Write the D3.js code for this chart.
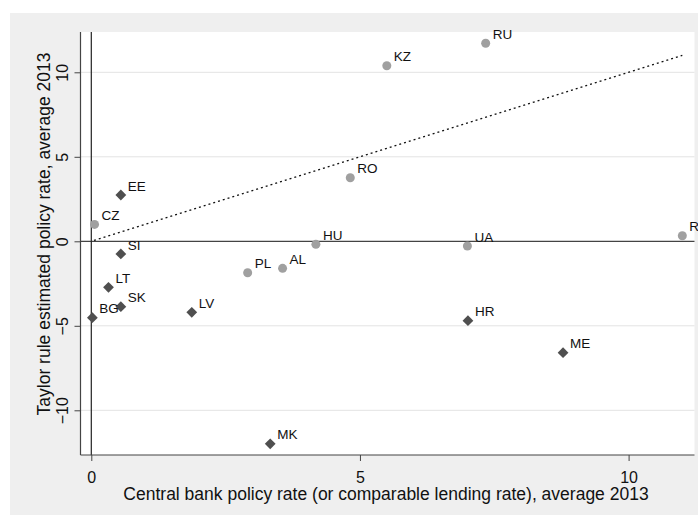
<!DOCTYPE html>
<html>
<head>
<meta charset="utf-8">
<script src="https://cdn.jsdelivr.net/npm/d3@7"></script>
<style>
  body { margin: 0; background: #fff; }
  svg { display: block; font-family: Arial, "Liberation Sans", sans-serif; }
</style>
</head>
<body>
<svg id="chart" width="698" height="515"></svg>
<script>
// Countries, policy rate (x) and Taylor-rule estimate (y), 2013 averages
const labels   = ["EE", "SI", "LT", "SK", "BG", "LV", "MK", "HR", "ME",
                  "CZ", "RU", "KZ", "RO", "HU", "UA", "RS", "PL", "AL"];
const policy   = [0.55, 0.55, 0.32, 0.55, 0.02, 1.87, 3.33, 7.01, 8.78,
                  0.06, 7.34, 5.50, 4.82, 4.18, 7.00, 11.00, 2.91, 3.56];
const taylor   = [2.74, -0.75, -2.72, -3.87, -4.52, -4.20, -11.98, -4.70, -6.59,
                  1.00, 11.72, 10.39, 3.76, -0.18, -0.28, 0.33, -1.86, -1.60];
// Currency-board / euro-peg group drawn as diamonds, others as circles
const group    = ["peg", "peg", "peg", "peg", "peg", "peg", "peg", "peg", "peg",
                  "float", "float", "float", "float", "float", "float", "float", "float", "float"];
const xTicks = [0, 5, 10];
const yTicks = [-10, -5, 0, 5, 10];
const gridTicks = [-10, -5, 5, 10];

const svg = d3.select("#chart");
const W = 698, H = 515;
const FONT = "Arial, 'Liberation Sans', sans-serif";

// outer panel
svg.append("rect").attr("x", 10).attr("y", 13).attr("width", W - 10).attr("height", H - 13)
  .attr("fill", "#efefef");

const pLeft = 80.5, pRight = 694.5, pTop = 32, pBottom = 455;
svg.append("rect").attr("x", pLeft).attr("y", pTop).attr("width", pRight - pLeft).attr("height", pBottom - pTop)
  .attr("fill", "#fff");

const x = d3.scaleLinear().domain([0, 10]).range([91.3, 628.6]);
const y = d3.scaleLinear().domain([0, 10]).range([241.3, 72.3]);

// grid
svg.append("g").selectAll("line").data(gridTicks).join("line")
  .attr("x1", pLeft).attr("x2", pRight)
  .attr("y1", d => y(d)).attr("y2", d => y(d))
  .attr("stroke", "#e3e3e3").attr("stroke-width", 1);

// reference lines at zero
svg.append("line").attr("x1", pLeft).attr("x2", pRight).attr("y1", y(0)).attr("y2", y(0))
  .attr("stroke", "#444").attr("stroke-width", 1.2);
svg.append("line").attr("x1", x(0)).attr("x2", x(0)).attr("y1", pTop).attr("y2", pBottom)
  .attr("stroke", "#222").attr("stroke-width", 1.2);

// 45-degree line
svg.append("line").attr("x1", x(0.05)).attr("y1", y(0.05)).attr("x2", x(11)).attr("y2", y(11))
  .attr("stroke", "#111").attr("stroke-width", 1.3).attr("stroke-dasharray", "2,3");

// axes
const xAxis = d3.axisBottom(x).tickValues(xTicks).tickSize(6).tickPadding(11).tickFormat(d3.format("d"));
const gx = svg.append("g").attr("transform", `translate(0,${pBottom})`).call(xAxis);
gx.select(".domain").attr("d", `M${pLeft},0H${pRight}`).attr("stroke", "#444").attr("stroke-width", 1.2);
gx.selectAll(".tick line").attr("stroke", "#444");
gx.selectAll(".tick text").attr("font-size", 16).attr("fill", "#111").attr("font-family", FONT);

const yAxis = d3.axisLeft(y).tickValues(yTicks).tickSize(6).tickFormat(d3.format("d"));
const gy = svg.append("g").attr("transform", `translate(${pLeft},0)`).call(yAxis);
gy.select(".domain").attr("d", `M0,${pTop}V${pBottom}`).attr("stroke", "#444").attr("stroke-width", 1.2);
gy.selectAll(".tick line").attr("stroke", "#444");
gy.selectAll(".tick text")
  .attr("font-size", 16).attr("fill", "#111").attr("font-family", FONT)
  .attr("x", null).attr("dy", null)
  .attr("text-anchor", "middle")
  .attr("transform", "translate(-13,0) rotate(-90)");

// axis titles
svg.append("text").attr("x", 386).attr("y", 500).attr("text-anchor", "middle")
  .attr("font-size", 17.5).attr("fill", "#111")
  .text("Central bank policy rate (or comparable lending rate), average 2013");
svg.append("text").attr("transform", "translate(50,234) rotate(-90)").attr("text-anchor", "middle")
  .attr("font-size", 17.5).attr("fill", "#111")
  .text("Taylor rule estimated policy rate, average 2013");

// markers
const idx = d3.range(labels.length);
const diamond = d3.symbol().type(d3.symbolSquare).size(58);
svg.append("g").selectAll("path").data(idx.filter(i => group[i] === "peg")).join("path")
  .attr("d", diamond)
  .attr("transform", i => `translate(${x(policy[i])},${y(taylor[i])}) rotate(45)`)
  .attr("fill", "#4f4f4f");
svg.append("g").selectAll("circle").data(idx.filter(i => group[i] === "float")).join("circle")
  .attr("cx", i => x(policy[i])).attr("cy", i => y(taylor[i])).attr("r", 4.5)
  .attr("fill", "#a0a0a0");

// marker labels
svg.append("g").selectAll("text").data(idx).join("text")
  .attr("x", i => x(policy[i]) + 7).attr("y", i => y(taylor[i]) - 4.3)
  .attr("font-size", 13.5).attr("fill", "#111")
  .text(i => labels[i]);
</script>
</body>
</html>
